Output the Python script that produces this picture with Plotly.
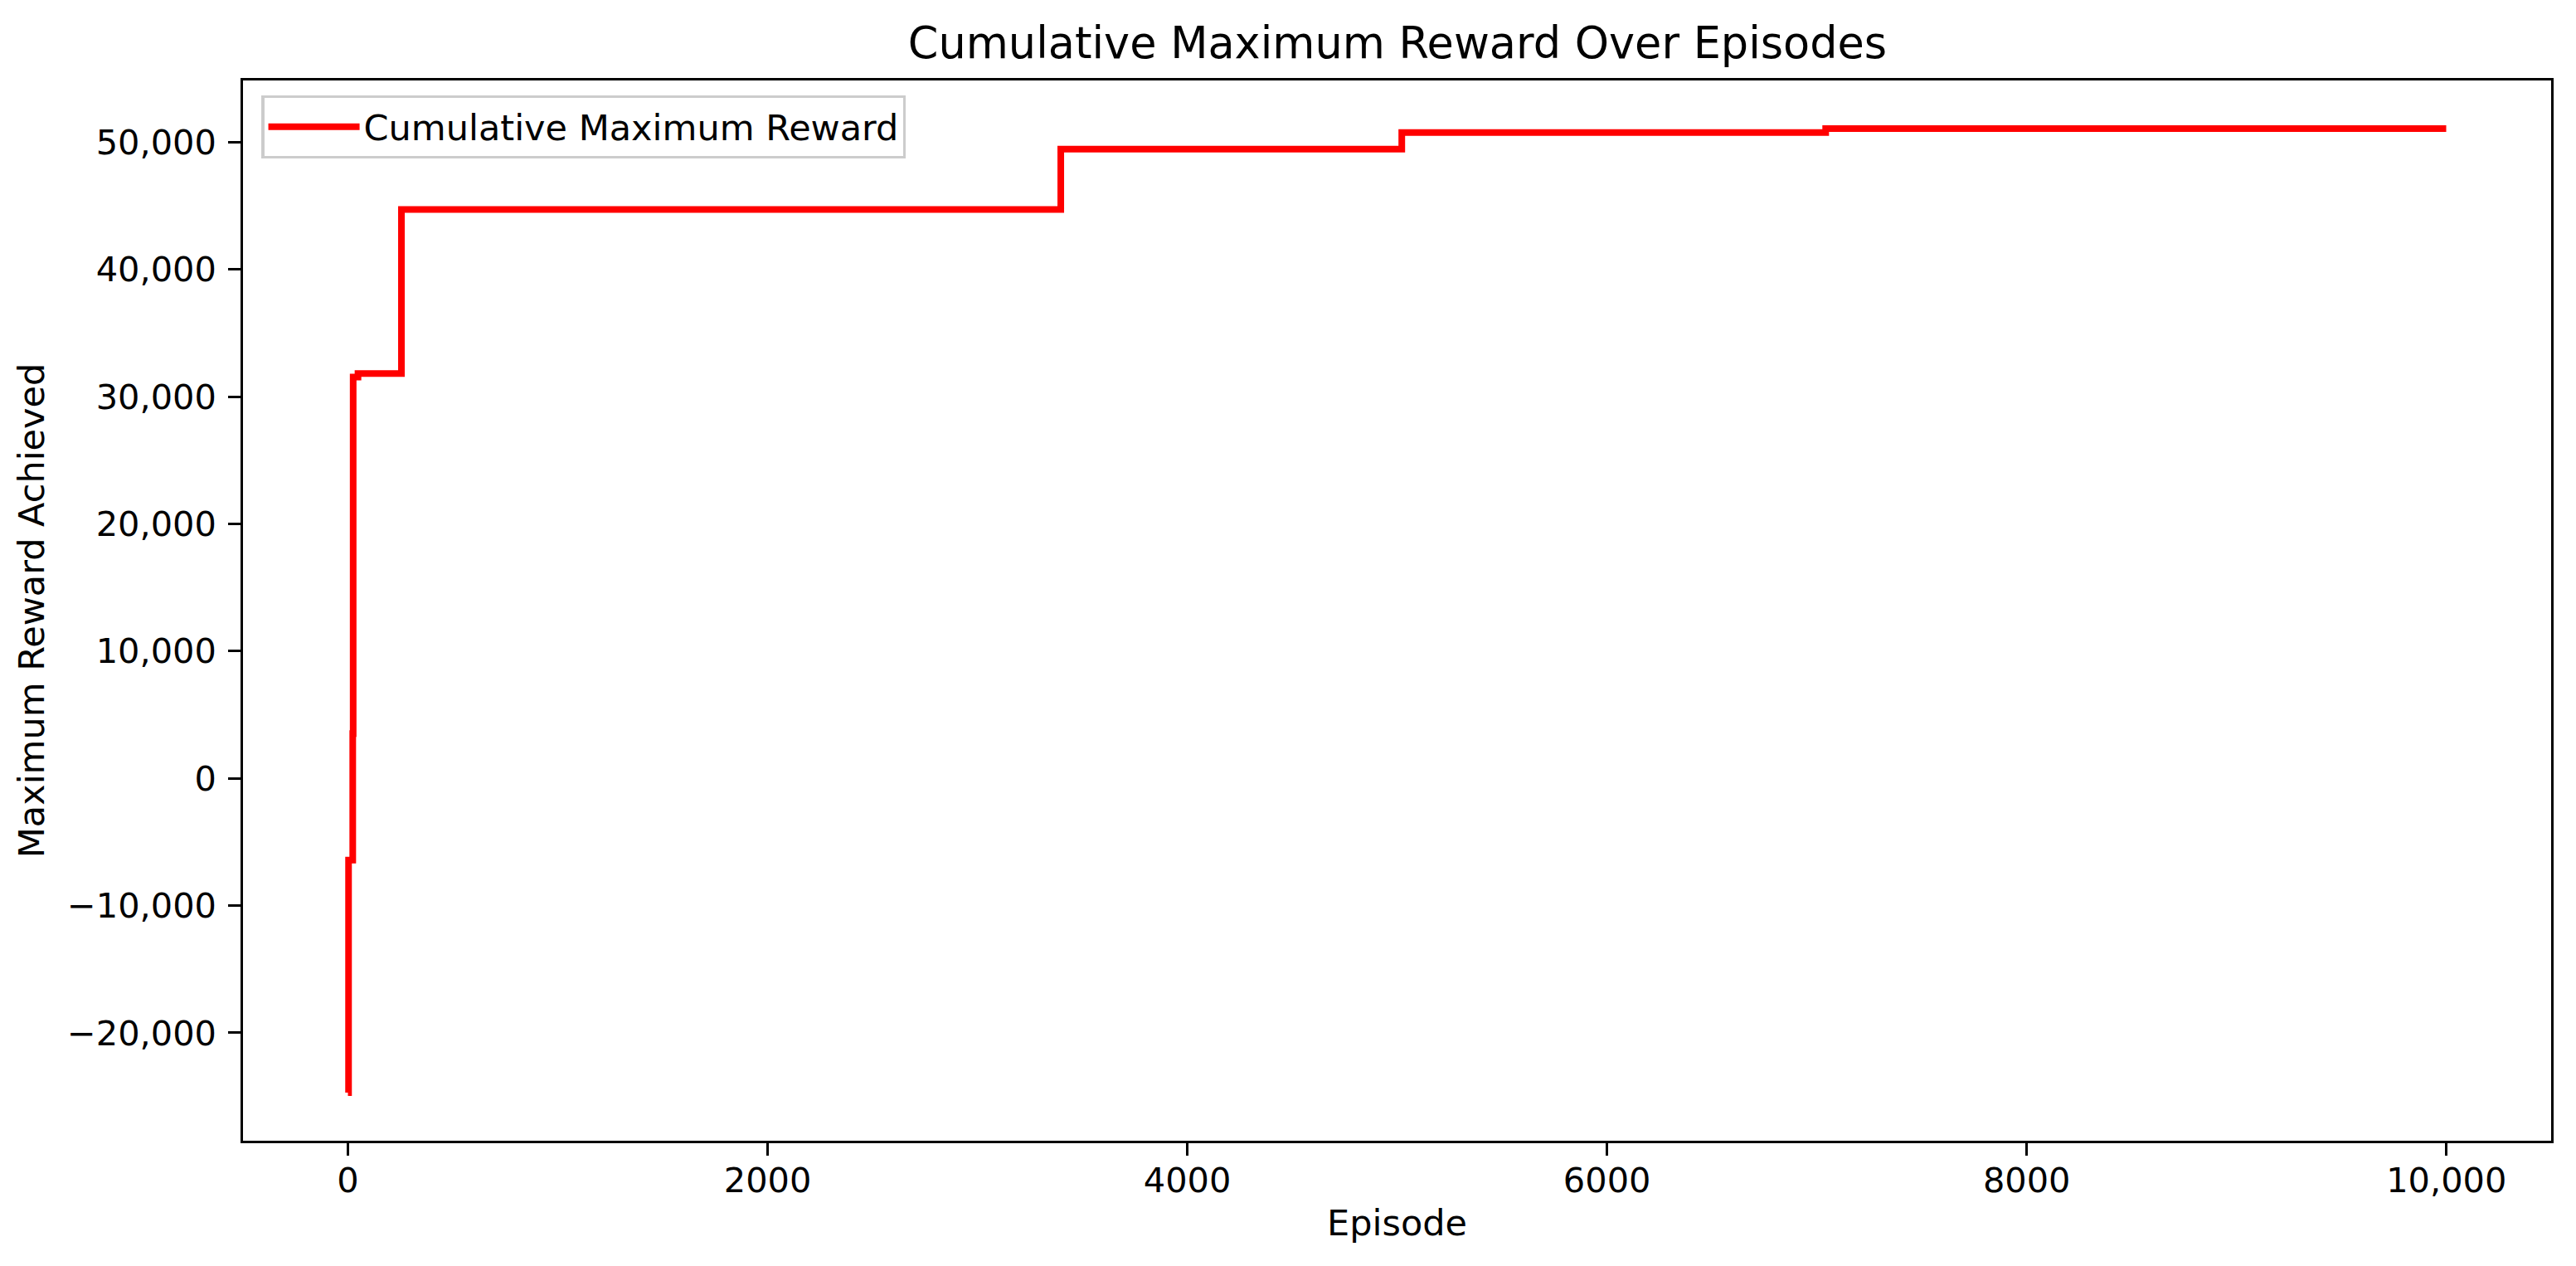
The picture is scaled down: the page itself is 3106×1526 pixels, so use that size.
import plotly.graph_objects as go

# episodes where the running maximum changes, and the new maximum there
episodes = [0, 3, 23, 25, 48, 255, 3397, 5022, 7042, 9999]
max_reward = [-24690, -6430, 3520, 31540, 31820, 44710, 49440, 50750, 51055, 51055]

x_tickvals = [0, 2000, 4000, 6000, 8000, 10000]
x_ticktext = ["0", "2000", "4000", "6000", "8000", "10,000"]
y_tickvals = [-20000, -10000, 0, 10000, 20000, 30000, 40000, 50000]

FONT = "DejaVu Sans"
TICK_FS = 41.5
LABEL_FS = 43

# matplotlib-like 5% margins
xspan = episodes[-1] - episodes[0]
xr = [episodes[0] - 0.05 * xspan, episodes[-1] + 0.05 * xspan]
yspan = max(max_reward) - min(max_reward)
yr = [min(max_reward) - 0.05 * yspan, max(max_reward) + 0.05 * yspan]

fig = go.Figure()
fig.add_trace(go.Scatter(
    x=episodes, y=max_reward,
    mode="lines", line_shape="hv",
    line=dict(color="#ff0000", width=8),
    name="Cumulative Maximum Reward"))

axis_common = dict(
    showline=True, linecolor="black", linewidth=3.3, mirror=True,
    ticks="outside", ticklen=14.6, tickwidth=3.3, tickcolor="black",
    showgrid=False, zeroline=False,
    tickfont=dict(family=FONT, size=TICK_FS, color="black"),
)

fig.update_layout(
    width=3106, height=1526,
    margin=dict(l=293, r=30, t=97, b=151),
    paper_bgcolor="white", plot_bgcolor="white",
    font=dict(family=FONT, size=LABEL_FS, color="black"),
    title=dict(text="Cumulative Maximum Reward Over Episodes",
               font=dict(family=FONT, size=52.5, color="black"),
               x=0.5425, xanchor="center", y=1 - 52 / 1526, yanchor="middle"),
    xaxis=dict(range=xr, tickvals=x_tickvals, ticktext=x_ticktext,
               ticklabelstandoff=-6,
               title=dict(text="Episode", standoff=14,
                          font=dict(family=FONT, size=LABEL_FS, color="black")),
               **axis_common),
    yaxis=dict(range=yr, tickvals=y_tickvals, tickformat=",d",
               ticklabelstandoff=6,
               title=dict(text="Maximum Reward Achieved", standoff=14,
                          font=dict(family=FONT, size=LABEL_FS, color="black")),
               **axis_common),
    showlegend=True,
    legend=dict(x=0.008, y=0.986, xanchor="left", yanchor="top",
                itemwidth=110,
                bgcolor="rgba(255,255,255,0.8)", bordercolor="#cccccc",
                borderwidth=3.3, font=dict(family=FONT, size=LABEL_FS, color="black")),
)

fig.write_html("out.html", config={"displayModeBar": False},
               post_script="document.body.style.margin='0';")
